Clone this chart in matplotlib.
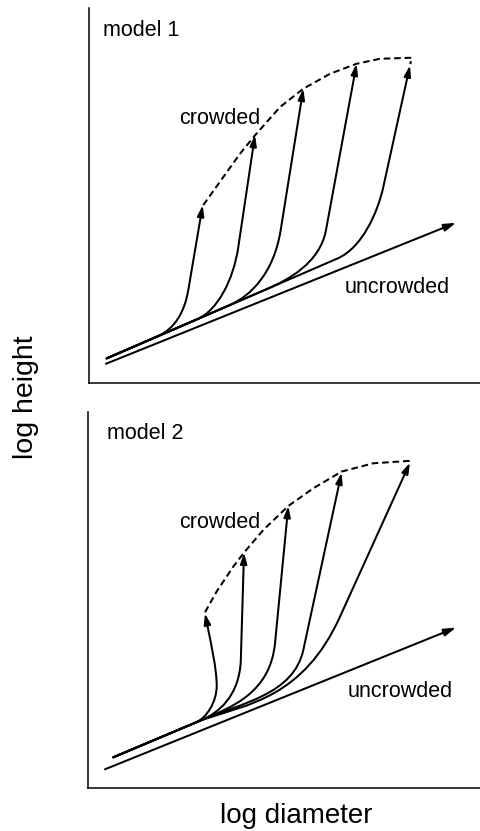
import matplotlib
matplotlib.use("Agg")
import matplotlib.pyplot as plt
from matplotlib.path import Path
from matplotlib.patches import FancyArrowPatch

plt.rcParams['font.family'] = ['Liberation Sans', 'DejaVu Sans']

# units are roughly pixels from the lower-left corner of each panel
# curve = start, branch off trunk, (ctrl, ctrl, knot)..., tip

# model 1
M1_UNCROWDED = [(16.7, 19.3), (366.7, 160.3)]
M1_C1 = [(17.4, 24.7), (68, 46.6), (86, 54.4), (95.4, 71.8), (99, 93), (113.4, 178)]
M1_C2 = [(17.4, 24.7), (108, 63.9), (128, 72.6), (144, 102.4), (149, 136), (165.7, 248)]
M1_C3 = [(17.4, 24.7), (140, 77.8), (162, 87.3), (184.6, 110.6), (191.4, 153), (214, 294.3)]
M1_C4 = [(17.4, 24.7), (178, 94.2), (198, 102.9), (230.6, 119.7), (236.7, 153), (267.3, 319.3)]
M1_C5 = [(17.4, 24.7), (248, 124.5), (273, 135.3), (288.5, 171), (294, 196), (320.7, 317.7)]
M1_CROWDED_X = [114, 134, 150.7, 165.7, 190.7, 214, 240.7, 267.3, 290.7, 322.3, 321]
M1_CROWDED_Y = [178, 206, 229.3, 247.7, 276, 294.3, 309.3, 319.3, 324.3, 325.3, 319]

# model 2
M2_UNCROWDED = [(16.7, 19), (367.7, 160.7)]
M2_C1 = [(25, 31), (108, 66), (118, 70.5), (128.5, 86), (128.4, 103),
         (128.3, 120), (122.6, 145), (120, 158.3), (116.7, 175)]
M2_C2 = [(25, 31), (113.4, 68.3), (130, 75.3), (151, 92), (152.5, 128), (155.7, 235.7)]
M2_C3 = [(25, 31), (113.4, 68.3), (143.4, 81), (181.9, 95.6), (186.7, 145), (200, 282.3)]
M2_C4 = [(25, 31), (113.4, 68.3), (153.4, 85.2), (205.4, 94), (215, 138.3), (253.3, 315.7)]
M2_C5 = [(25, 31), (113.4, 68.3), (160, 84), (215, 90.8), (251.7, 171.6), (321.7, 325.7)]
M2_CROWDED_X = [116.7, 128.3, 145, 155.7, 175, 200, 225, 253.3, 285, 322.5, 321.7]
M2_CROWDED_Y = [176, 196.7, 221.7, 235.7, 258.3, 282.3, 300, 316.7, 325, 327.5, 325.7]

LW = 1.45
HEAD = '-|>,head_length=0.65,head_width=0.2'


def draw_curve(ax, pts):
    codes = [Path.MOVETO, Path.LINETO] + [Path.CURVE4] * (len(pts) - 3) + [Path.LINETO]
    ax.add_patch(FancyArrowPatch(path=Path(pts, codes), arrowstyle=HEAD,
                                 mutation_scale=10, lw=LW, color='black'))


def draw_panel(ax, curves, uncrowded, cx, cy, name, pos):
    for c in curves:
        draw_curve(ax, c)
    ax.add_patch(FancyArrowPatch(uncrowded[0], uncrowded[1], arrowstyle=HEAD,
                                 mutation_scale=11, lw=LW, color='black',
                                 shrinkA=0, shrinkB=0))
    ax.plot(cx, cy, color='black', lw=LW, linestyle=(0, (3.3, 1.9)))
    ax.text(pos[0][0], pos[0][1], name, fontsize=15.5, va='baseline')
    ax.text(pos[1][0], pos[1][1], 'crowded', fontsize=15.5, va='baseline')
    ax.text(pos[2][0], pos[2][1], 'uncrowded', fontsize=15.5, va='baseline')
    for s in ['top', 'right']:
        ax.spines[s].set_visible(False)
    for s in ['left', 'bottom']:
        ax.spines[s].set_linewidth(1.1)
    ax.set_xticks([])
    ax.set_yticks([])


fig = plt.figure(figsize=(4.8, 8.31), dpi=100)

ax1 = fig.add_axes([0.186, 0.539, 0.814, 0.4513])
ax1.set_xlim(0, 390.7)
ax1.set_ylim(0, 375)
draw_panel(ax1, [M1_C1, M1_C2, M1_C3, M1_C4, M1_C5], M1_UNCROWDED,
           M1_CROWDED_X, M1_CROWDED_Y, 'model 1',
           [(13.4, 347), (90, 259), (255.7, 90)])

ax2 = fig.add_axes([0.184, 0.0514, 0.816, 0.4532])
ax2.set_xlim(0, 391.7)
ax2.set_ylim(0, 376.6)
draw_panel(ax2, [M2_C1, M2_C2, M2_C3, M2_C4, M2_C5], M2_UNCROWDED,
           M2_CROWDED_X, M2_CROWDED_Y, 'model 2',
           [(19, 349.3), (90.7, 260.3), (259.7, 91.3)])

fig.text(0.055, 0.522, 'log height', fontsize=20.5, rotation=90, ha='center', va='center')
fig.text(0.617, 0.0096, 'log diameter', fontsize=20, ha='center', va='baseline')

fig.savefig('out.png', dpi=100)
